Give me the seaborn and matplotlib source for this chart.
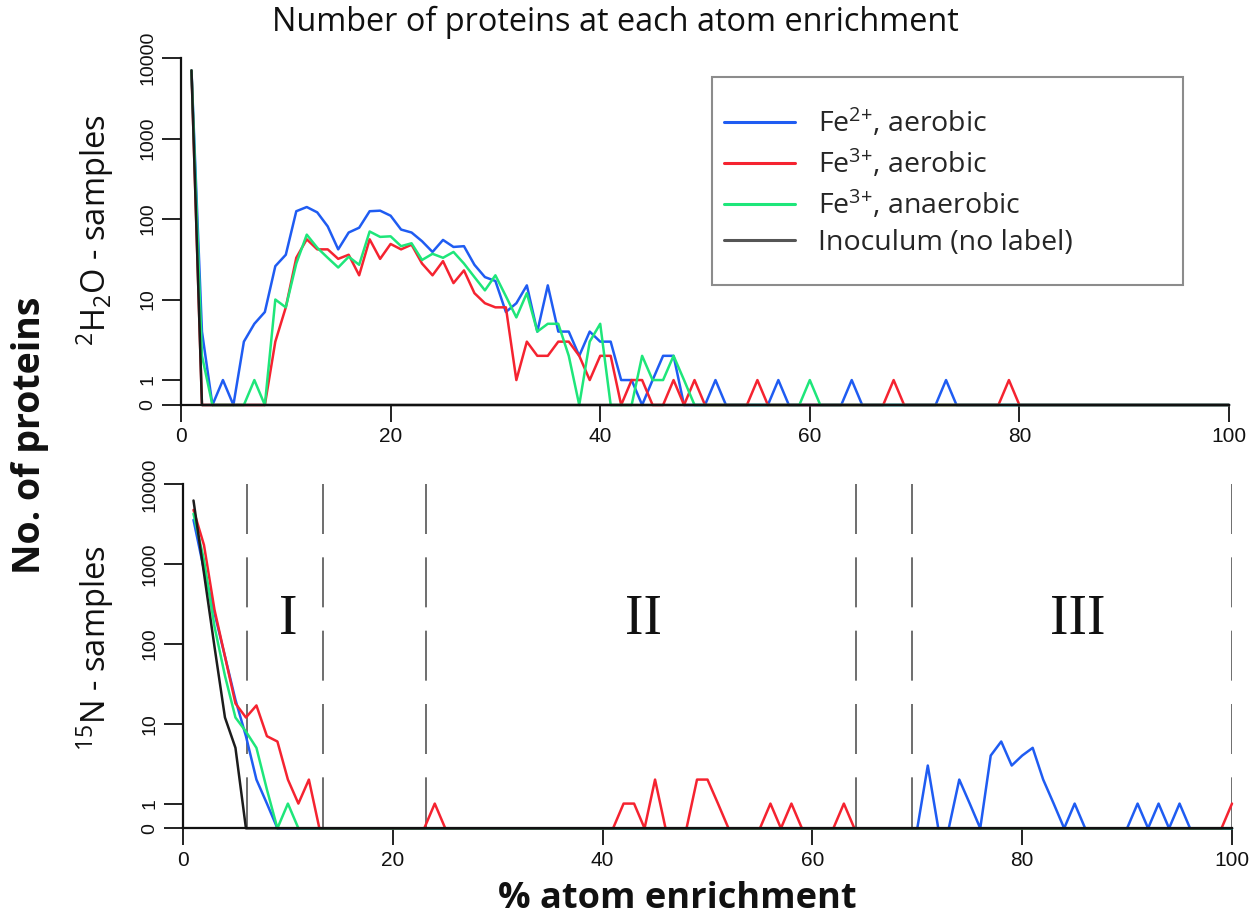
import numpy as np
import pandas as pd
import matplotlib
matplotlib.use("Agg")
import matplotlib.pyplot as plt
import matplotlib.patches as mpatches
import seaborn as sns

# ---------------- data ----------------
enrichment = list(range(1, 101))

def series(points):
    arr = [0.0] * 100
    for p, v in points.items():
        arr[p - 1] = v
    return arr

h2o_fe2_aerobic = series({1: 7000, 2: 4, 3: 0, 4: 1, 5: 0, 6: 3, 7: 5, 8: 7, 9: 26, 10: 36,
                          11: 125, 12: 141, 13: 121, 14: 81, 15: 42, 16: 68, 17: 78, 18: 125, 19: 127, 20: 110,
                          21: 74, 22: 68, 23: 53, 24: 39, 25: 55, 26: 45, 27: 46, 28: 27, 29: 19, 30: 17,
                          31: 7, 32: 9, 33: 15, 34: 4, 35: 15, 36: 4, 37: 4, 38: 2, 39: 4, 40: 3,
                          41: 3, 42: 1, 43: 1, 45: 1, 46: 2, 47: 2, 51: 1, 57: 1, 64: 1, 73: 1})
h2o_fe3_aerobic = series({1: 7000, 9: 3, 10: 8, 11: 33, 12: 56, 13: 42, 14: 42, 15: 32, 16: 36, 17: 20,
                          18: 56, 19: 32, 20: 49, 21: 42, 22: 48, 23: 28, 24: 20, 25: 30, 26: 16, 27: 23,
                          28: 12, 29: 9, 30: 8, 31: 8, 32: 1, 33: 3, 34: 2, 35: 2, 36: 3, 37: 3,
                          38: 2, 39: 1, 40: 2, 41: 2, 43: 1, 44: 1, 47: 1, 49: 1, 55: 1, 68: 1, 79: 1})
h2o_fe3_anaerobic = series({1: 7000, 2: 2, 7: 1, 9: 10, 10: 8, 11: 28, 12: 64, 13: 44, 14: 33, 15: 25,
                            16: 34, 17: 27, 18: 70, 19: 60, 20: 61, 21: 46, 22: 50, 23: 31, 24: 37, 25: 33,
                            26: 39, 27: 28, 28: 19, 29: 13, 30: 20, 31: 11, 32: 6, 33: 12, 34: 4, 35: 5,
                            36: 5, 37: 2, 39: 3, 40: 5, 44: 2, 45: 1, 46: 1, 47: 2, 48: 1, 60: 1})
h2o_inoculum = series({1: 7000})

n15_fe2_aerobic = series({1: 3600, 2: 850, 3: 245, 4: 70, 5: 20, 6: 7, 7: 2, 8: 1,
                          71: 3, 74: 2, 75: 1, 77: 4, 78: 6, 79: 3, 80: 4, 81: 5, 82: 2, 83: 1,
                          85: 1, 91: 1, 93: 1, 95: 1})
n15_fe3_aerobic = series({1: 4800, 2: 1740, 3: 270, 4: 70, 5: 18, 6: 12, 7: 17, 8: 7, 9: 6, 10: 2,
                          11: 1, 12: 2, 24: 1, 42: 1, 43: 1, 45: 2, 49: 2, 50: 2, 51: 1, 56: 1,
                          58: 1, 63: 1, 100: 1})
n15_fe3_anaerobic = series({1: 4300, 2: 1130, 3: 166, 4: 40, 5: 12, 6: 8, 7: 5, 8: 1.5, 10: 1})
n15_inoculum = series({1: 6300, 2: 770, 3: 93, 4: 12, 5: 5})

sample_labels = ["Fe$^{2{+}}$, aerobic", "Fe$^{3{+}}$, aerobic", "Fe$^{3{+}}$, anaerobic",
                 "Inoculum (no label)"]
sample_colors = ["#1f5cf2", "#f52330", "#1ee67a", "#1c1c1c"]

region_bounds = [6.1, 13.3, 23.2, 64.2, 69.5, 100]
region_names = ["I", "II", "III"]
region_name_x = [10.0, 43.9, 85.3]

y_ticks = [0, 1, 10, 100, 1000, 10000]
x_ticks = [0, 20, 40, 60, 80, 100]

# ---------------- styling ----------------
sns.set_style("ticks")
plt.rcParams["font.family"] = ["Open Sans", "DejaVu Sans"]
plt.rcParams["mathtext.default"] = "regular"

W, H = 1251, 922
fig = plt.figure(figsize=(W / 100, H / 100), dpi=100)

def fwd(y):
    return np.log10(np.maximum(np.asarray(y, dtype=float), 0.49))

def inv(v):
    return 10 ** np.asarray(v, dtype=float)

def make_df(values):
    rows = []
    for lab, vals in zip(sample_labels, values):
        for x, v in zip(enrichment, vals):
            rows.append((x, v, lab))
    return pd.DataFrame(rows, columns=["enrichment", "count", "sample"])

palette = dict(zip(sample_labels, sample_colors))

ax_top = fig.add_axes([181 / W, 1 - 405 / H, 1048 / W, 347 / H])
ax_bot = fig.add_axes([183 / W, 1 - 828.3 / H, 1049 / W, 343.8 / H])

df_top = make_df([h2o_fe2_aerobic, h2o_fe3_aerobic, h2o_fe3_anaerobic, h2o_inoculum])
df_bot = make_df([n15_fe2_aerobic, n15_fe3_aerobic, n15_fe3_anaerobic, n15_inoculum])

for ax, df in [(ax_top, df_top), (ax_bot, df_bot)]:
    ax.set_yscale("function", functions=(fwd, inv))
    sns.lineplot(data=df, x="enrichment", y="count", hue="sample", hue_order=sample_labels,
                 palette=palette, estimator=None, linewidth=1.8, ax=ax, legend=(ax is ax_top))
    for ln in ax.get_lines():
        ln.set_clip_on(False)
    ax.set_xlim(0, 100)
    ax.set_ylim(0, 10000)
    ax.set_xticks(x_ticks)
    ax.set_xticklabels([str(t) for t in x_ticks], fontfamily="Liberation Sans", fontsize=15)
    ax.set_yticks(y_ticks)
    ax.set_yticklabels([str(t) for t in y_ticks], fontfamily="Liberation Sans", fontsize=14,
                       rotation=90, va="center")
    ax.yaxis.set_minor_locator(matplotlib.ticker.NullLocator())
    ax.tick_params(axis="x", direction="out", length=12, width=1.3, pad=4, colors="#111")
    ax.tick_params(axis="y", direction="out", length=14, width=1.3, pad=4, colors="#111")
    for s in ["top", "right"]:
        ax.spines[s].set_visible(False)
    for s in ["left", "bottom"]:
        ax.spines[s].set_linewidth(1.6)
        ax.spines[s].set_color("#111")
    ax.set_xlabel("")
    ax.set_ylabel("")
    ax.patch.set_alpha(0)

# region boundaries in the 15N panel
ax_bot.vlines(region_bounds, 10000, 0, colors="#555555", linewidth=1.2,
              linestyles=[(0, (30, 14))], zorder=1)
for name, xpos in zip(region_names, region_name_x):
    ax_bot.text(xpos, 200, name, ha="center", va="center", fontfamily="Liberation Serif",
                fontsize=40, color="#111")

# legend
handles, labels = ax_top.get_legend_handles_labels()
ax_top.get_legend().remove()
for h in handles:
    h.set_linewidth(2.2)
handles[-1].set_color("#555555")
fig.legend(handles, labels, loc="upper left", bbox_to_anchor=(724 / W, 1 - 106 / H),
           bbox_transform=fig.transFigure, frameon=False, fontsize=20.5, handlelength=2.5,
           handletextpad=0.8, labelspacing=0.3, borderpad=0, borderaxespad=0)
fig.patches.append(mpatches.Rectangle((712 / W, 1 - 285 / H), (1183 - 712) / W, (285 - 77) / H,
                                      transform=fig.transFigure, fill=False,
                                      edgecolor="#8c8c8c", linewidth=1.5))

# texts
fig.text(615 / W, 1 - 22 / H, "Number of proteins at each atom enrichment", ha="center",
         va="center", fontsize=23.4, color="#111")
fig.text(30 / W, 1 - 435 / H, "No. of proteins", rotation=90, ha="center", va="center",
         fontsize=27, fontweight="bold", color="#111")
fig.text(677 / W, 1 - 899 / H, "% atom enrichment", ha="center", va="center",
         fontsize=26, fontweight="bold", color="#111")
fig.text(95 / W, 1 - 230 / H, "$^{2}$H$_{2}$O - samples", rotation=90, ha="center", va="center",
         fontsize=23.5, color="#111")
fig.text(95 / W, 1 - 648 / H, "$^{15}$N - samples", rotation=90, ha="center", va="center",
         fontsize=23.5, color="#111")

fig.savefig("out.png", dpi=100)
